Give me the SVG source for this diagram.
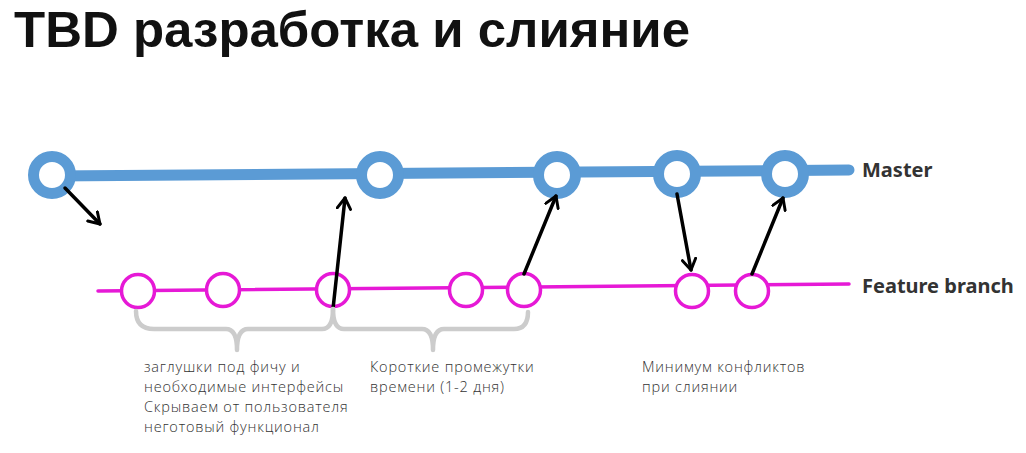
<svg xmlns="http://www.w3.org/2000/svg" width="1026" height="453" viewBox="0 0 1026 453">
<defs>
<marker id="ah" viewBox="0 0 12 12" refX="9" refY="6" markerWidth="4.6" markerHeight="4.6" orient="auto" markerUnits="strokeWidth">
<path d="M1,1 L9,6 L1,11" fill="none" stroke="#000" stroke-width="2.2" stroke-linecap="round" stroke-linejoin="round"/>
</marker>
</defs>
<style>
.title{font-family:"Liberation Sans",Arial,sans-serif;font-weight:bold;font-size:50px;fill:#111}
.lbl{font-family:"Noto Sans","Open Sans",sans-serif;font-weight:bold;font-size:20px;fill:#333}
.note{font-family:"Open Sans","Noto Sans",sans-serif;font-weight:300;font-size:14.5px;letter-spacing:0.8px;fill:#333}
.m{fill:#fff;stroke:#5b9bd5;stroke-width:11}
.f{fill:#fff;stroke:#e619d6;stroke-width:3.5}
.arr{stroke:#000;stroke-width:3.5;fill:none;stroke-linecap:round;marker-end:url(#ah)}
.brace{fill:none;stroke:#cccccc;stroke-width:4.5;stroke-linecap:round;stroke-linejoin:round}
</style>
<rect width="1026" height="453" fill="#fff"/>
<text class="title" x="14" y="47" textLength="676" lengthAdjust="spacingAndGlyphs">TBD разработка и слияние</text>
<g id="lines">
<line x1="52" y1="176" x2="849" y2="170" stroke="#5b9bd5" stroke-width="11" stroke-linecap="round"/>
<line x1="98" y1="291" x2="849" y2="284" stroke="#e619d6" stroke-width="3.5" stroke-linecap="round"/>
</g>
<g id="master-nodes">
<circle id="m1" class="m" cx="52" cy="175" r="18.5"/>
<circle id="m2" class="m" cx="380" cy="175" r="18.5"/>
<circle id="m3" class="m" cx="557" cy="175" r="18.5"/>
<circle id="m4" class="m" cx="677" cy="174" r="18.5"/>
<circle id="m5" class="m" cx="785" cy="174" r="18.5"/>
</g>
<g id="feature-nodes">
<circle id="f1" class="f" cx="138" cy="291" r="16.5"/>
<circle id="f2" class="f" cx="223" cy="290" r="16.5"/>
<circle id="f3" class="f" cx="333" cy="290" r="16.5"/>
<circle id="f4" class="f" cx="466" cy="290" r="16.5"/>
<circle id="f5" class="f" cx="524" cy="290" r="16.5"/>
<circle id="f6" class="f" cx="692" cy="291" r="16.5"/>
<circle id="f7" class="f" cx="752" cy="291" r="16.5"/>
</g>
<g id="connectors">
<line class="arr" x1="65" y1="188" x2="100" y2="224"/>
<line class="arr" x1="333" y1="309" x2="345" y2="198"/>
<line class="arr" x1="524" y1="274" x2="556" y2="196"/>
<line class="arr" x1="677" y1="194" x2="691" y2="270"/>
<line class="arr" x1="752" y1="274" x2="783" y2="198"/>
</g>
<g id="braces">
<path class="brace" d="M136,311 Q136,329 154,329 L226,329 Q237,329 237,350 Q237,329 248,329 L322,329 Q333,329 333,309"/>
<path class="brace" d="M333,309 Q333,329 344,329 L422,329 Q433,329 433,350 Q433,329 444,329 L514,329 Q528,329 528,312"/>
</g>
<g id="labels">
<text class="lbl" x="862" y="177">Master</text>
<text class="lbl" x="862" y="293">Feature branch</text>
</g>
<g id="notes">
<text class="note" x="144" y="372">заглушки под фичу и</text>
<text class="note" x="144" y="392">необходимые интерфейсы</text>
<text class="note" x="144" y="412">Скрываем от пользователя</text>
<text class="note" x="144" y="432">неготовый функционал</text>
<text class="note" x="370" y="372">Короткие промежутки</text>
<text class="note" x="370" y="392">времени (1-2 дня)</text>
<text class="note" x="642" y="372">Минимум конфликтов</text>
<text class="note" x="642" y="392">при слиянии</text>
</g>
</svg>
